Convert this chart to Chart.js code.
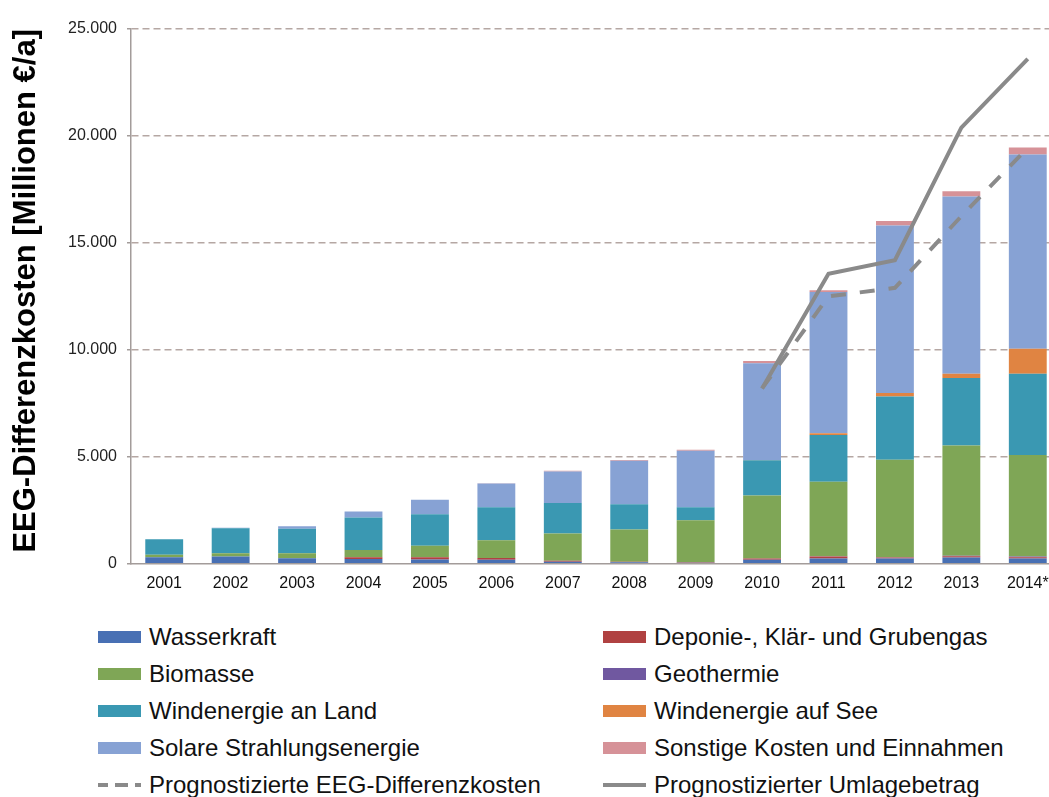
<!DOCTYPE html>
<html>
<head>
<meta charset="utf-8">
<script src="https://cdn.jsdelivr.net/npm/chart.js@4"></script>
<style>
  html, body { margin: 0; padding: 0; overflow: hidden; background: #fff; }
  #wrap { position: relative; width: 1061px; height: 797px; }
  #myChart { position: absolute; left: 0; top: 0; }
  #legend { position: absolute; left: 0; top: 0; font-family: "Liberation Sans", Arial, sans-serif; font-size: 24px; color: #111; }
  .item { position: absolute; display: flex; align-items: center; height: 30px; white-space: nowrap; }
  .item svg { margin-right: 8px; }
</style>
</head>
<body>
<div id="wrap">
  <canvas id="myChart" width="1061" height="611"></canvas>
  <div id="legend"></div>
</div>
<script>
const years = ["2001", "2002", "2003", "2004", "2005", "2006", "2007", "2008", "2009", "2010", "2011", "2012", "2013", "2014*"];

// Millionen €/a
const wasserkraft = [310, 340, 260, 220, 200, 190, 100, 70, 50, 190, 250, 250, 300, 250];
const deponie = [0, 0, 0, 90, 110, 80, 40, 20, 20, 60, 90, 40, 50, 60];
const geothermie = [0, 0, 0, 0, 0, 0, 0, 0, 0, 0, 10, 20, 30, 30];
const biomasse = [110, 150, 230, 330, 530, 830, 1280, 1510, 1960, 2940, 3490, 4550, 5150, 4750];
const windLand = [730, 1170, 1150, 1530, 1480, 1540, 1420, 1180, 610, 1650, 2180, 2960, 3160, 3790];
const windSee = [0, 0, 0, 0, 0, 0, 0, 0, 0, 10, 80, 160, 190, 1170];
const solar = [0, 20, 120, 280, 670, 1110, 1480, 2040, 2640, 4520, 6600, 7830, 8290, 9080];
const sonstige = [0, 0, 0, 0, 0, 20, 30, 30, 50, 110, 90, 220, 250, 330];

const progDifferenzkosten = [null, null, null, null, null, null, null, null, null, 8200, 12500, 12900, 16250, 19450];
const progUmlage = [null, null, null, null, null, null, null, null, null, 8200, 13560, 14190, 20390, 23600];

const yTicks = [0, 5000, 10000, 15000, 20000, 25000];

const lineGrey = "#8a8a8a";

function bar(label, data, color) {
  return { type: "bar", label: label, data: data, backgroundColor: color, stack: "kosten", order: 2 };
}

const datasets = [
  bar("Wasserkraft", wasserkraft, "#4870b4"),
  bar("Deponie-, Klär- und Grubengas", deponie, "#b04141"),
  bar("Geothermie", geothermie, "#7058a0"),
  bar("Biomasse", biomasse, "#7fa656"),
  bar("Windenergie an Land", windLand, "#3a98b2"),
  bar("Windenergie auf See", windSee, "#e08442"),
  bar("Solare Strahlungsenergie", solar, "#87a2d4"),
  bar("Sonstige Kosten und Einnahmen", sonstige, "#d69298"),
  {
    type: "line", label: "Prognostizierte EEG-Differenzkosten", data: progDifferenzkosten,
    borderColor: lineGrey, borderWidth: 4, borderDash: [15, 14], pointRadius: 0,
    tension: 0, stack: "l1", order: 1, spanGaps: false,
  },
  {
    type: "line", label: "Prognostizierter Umlagebetrag", data: progUmlage,
    borderColor: lineGrey, borderWidth: 4, pointRadius: 0,
    tension: 0, stack: "l2", order: 0, spanGaps: false,
  },
];

const font = "'Liberation Sans', Arial, sans-serif";

const ctx = document.getElementById("myChart").getContext("2d");
const myChart = new Chart(ctx, {
  type: "bar",
  data: { labels: years, datasets: datasets },
  options: {
    responsive: false,
    animation: false,
    layout: { padding: { top: 29, left: 0, right: 0, bottom: 8 } },
    datasets: { bar: { categoryPercentage: 1, barPercentage: 0.57 } },
    scales: {
      x: {
        stacked: true,
        grid: { display: false, drawTicks: false },
        border: { display: true, color: "#a39c9a", width: 1.5 },
        ticks: { color: "#111", padding: 10, font: { size: 16, family: font } },
      },
      y: {
        stacked: true,
        min: 0,
        max: 25000,
        afterFit: function (scale) { scale.width = 131; },
        afterBuildTicks: function (scale) { scale.ticks = yTicks.map(v => ({ value: v })); },
        grid: {
          color: function (c) { return c.tick && c.tick.value === 0 ? "rgba(0,0,0,0)" : "#b5a7a3"; },
          lineWidth: 1.5,
          tickLength: 4,
          tickColor: "#a39c9a",
        },
        border: { display: true, color: "#a39c9a", width: 1.5, dash: [7, 4] },
        ticks: {
          color: "#222",
          padding: 10,
          font: { size: 16, family: font },
          callback: function (value) {
            return String(value).replace(/\B(?=(\d{3})+(?!\d))/g, ".");
          },
        },
        title: {
          display: true,
          text: "EEG-Differenzkosten [Millionen €/a]",
          align: "end",
          color: "#000",
          padding: { top: 8, bottom: 0 },
          font: { size: 31, weight: "bold", family: font },
        },
      },
    },
    plugins: {
      legend: { display: false },
      tooltip: { enabled: false },
    },
  },
});

// two-column legend like the original figure
const legendCols = [
  ["Wasserkraft", "Biomasse", "Windenergie an Land", "Solare Strahlungsenergie", "Prognostizierte EEG-Differenzkosten"],
  ["Deponie-, Klär- und Grubengas", "Geothermie", "Windenergie auf See", "Sonstige Kosten und Einnahmen", "Prognostizierter Umlagebetrag"],
];
const legendX = [98, 603];
const legendY = [637, 674, 711, 748, 785];

const legend = document.getElementById("legend");
legendCols.forEach((col, ci) => {
  col.forEach((label, ri) => {
    const ds = myChart.data.datasets.find(d => d.label === label);
    const el = document.createElement("div");
    el.className = "item";
    el.style.left = legendX[ci] + "px";
    el.style.top = (legendY[ri] - 15) + "px";
    let sw;
    if (ds.type === "line") {
      const dash = ds.borderDash ? ' stroke-dasharray="13,7"' : "";
      sw = '<svg width="43" height="14"><line x1="' + (ds.borderDash ? -3 : 0) + '" y1="7" x2="43" y2="7" stroke="' +
        ds.borderColor + '" stroke-width="4"' + dash + '/></svg>';
    } else {
      sw = '<svg width="43" height="14"><rect x="0" y="1" width="43" height="12" fill="' + ds.backgroundColor + '"/></svg>';
    }
    el.innerHTML = sw + "<span>" + label + "</span>";
    legend.appendChild(el);
  });
});
</script>
</body>
</html>
